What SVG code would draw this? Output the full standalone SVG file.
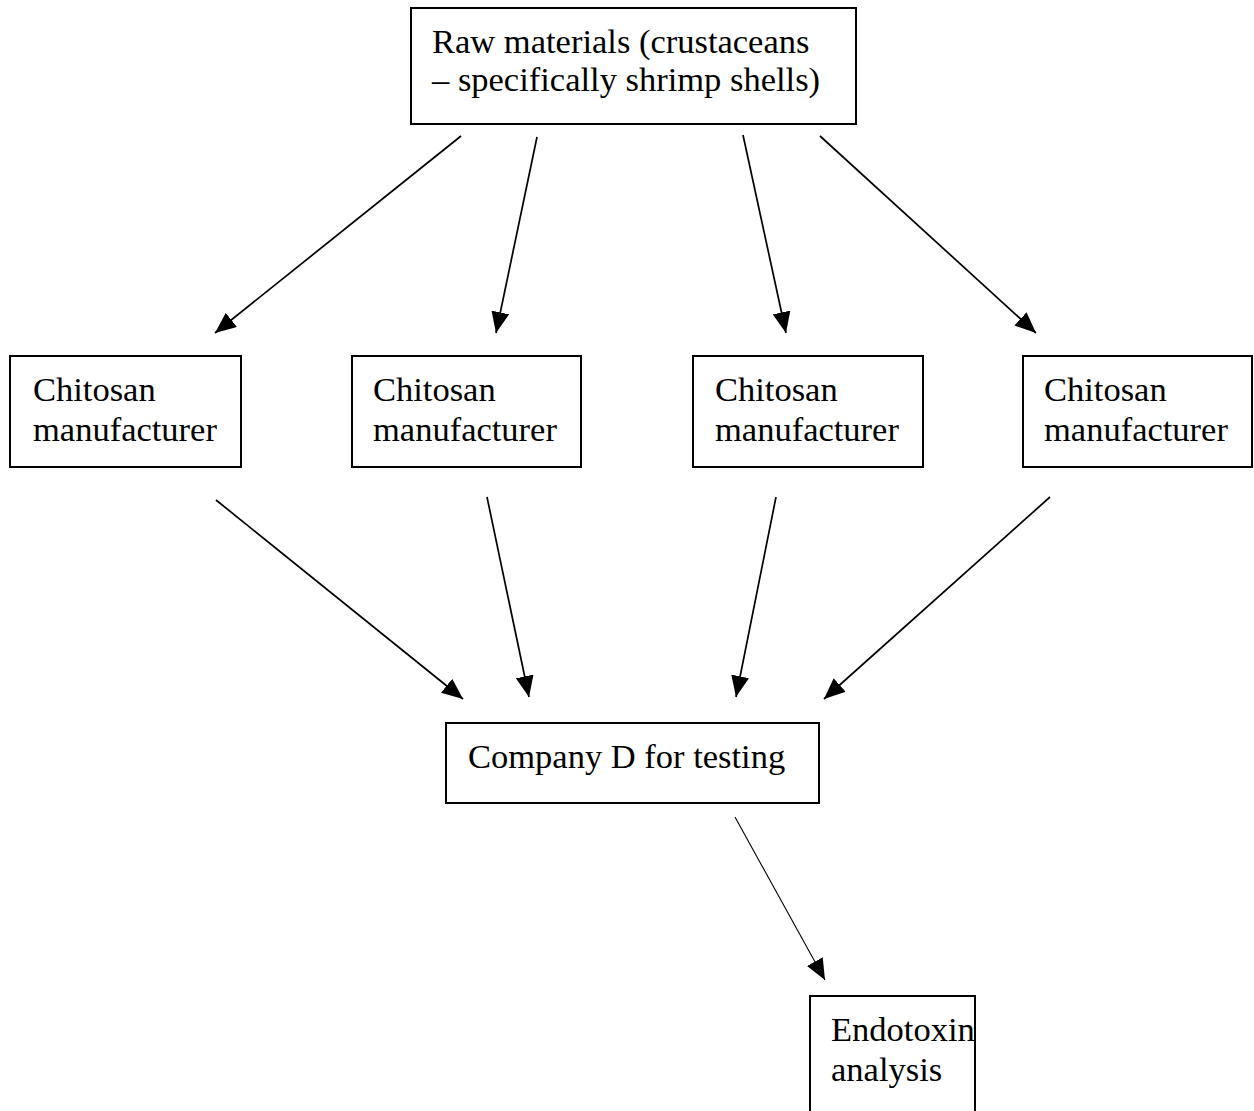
<svg xmlns="http://www.w3.org/2000/svg" width="1254" height="1111" viewBox="0 0 1254 1111">
  <style>
    .box { fill: #fff; stroke: #000; stroke-width: 2; }
    .lbl { font-family: "Liberation Serif", "Times New Roman", serif; font-size: 34.5px; fill: #000; }
    .edge { stroke: #000; stroke-width: 1.7; fill: none; marker-end: url(#arrow); }
    .thin { stroke-width: 1.1; }
  </style>
  <defs>
    <marker id="arrow" markerUnits="userSpaceOnUse" markerWidth="22" markerHeight="18" refX="21" refY="9" orient="auto">
      <path d="M0,0 L21,9 L0,18 Z" fill="#000"/>
    </marker>
  </defs>
  <rect width="1254" height="1111" fill="#fff"/>

  <g id="connectors">
    <line class="edge" x1="461" y1="136" x2="215" y2="333"/>
    <line class="edge" x1="537" y1="137" x2="496" y2="333"/>
    <line class="edge" x1="743" y1="135" x2="786" y2="333"/>
    <line class="edge" x1="820" y1="136" x2="1036" y2="333"/>
    <line class="edge" x1="216" y1="500" x2="463" y2="699"/>
    <line class="edge" x1="487" y1="497" x2="529" y2="697"/>
    <line class="edge" x1="776" y1="497" x2="736" y2="697"/>
    <line class="edge" x1="1050" y1="497" x2="824" y2="699"/>
    <line class="edge thin" x1="735" y1="817" x2="825" y2="980"/>
  </g>

  <g id="raw-materials">
    <rect class="box" x="411" y="8" width="445" height="116"/>
    <text class="lbl" x="432" y="53">Raw materials (crustaceans</text>
    <text class="lbl" x="432" y="91">– specifically shrimp shells)</text>
  </g>

  <g id="manufacturer-1">
    <rect class="box" x="10" y="356" width="231" height="111"/>
    <text class="lbl" x="33" y="401">Chitosan</text>
    <text class="lbl" x="33" y="441">manufacturer</text>
  </g>

  <g id="manufacturer-2">
    <rect class="box" x="352" y="356" width="229" height="111"/>
    <text class="lbl" x="373" y="401">Chitosan</text>
    <text class="lbl" x="373" y="441">manufacturer</text>
  </g>

  <g id="manufacturer-3">
    <rect class="box" x="693" y="356" width="230" height="111"/>
    <text class="lbl" x="715" y="401">Chitosan</text>
    <text class="lbl" x="715" y="441">manufacturer</text>
  </g>

  <g id="manufacturer-4">
    <rect class="box" x="1023" y="356" width="229" height="111"/>
    <text class="lbl" x="1044" y="401">Chitosan</text>
    <text class="lbl" x="1044" y="441">manufacturer</text>
  </g>

  <g id="company-d">
    <rect class="box" x="446" y="723" width="373" height="80"/>
    <text class="lbl" x="468" y="768">Company D for testing</text>
  </g>

  <g id="endotoxin">
    <rect class="box" x="810" y="996" width="165" height="130"/>
    <text class="lbl" x="831" y="1041">Endotoxin</text>
    <text class="lbl" x="831" y="1081">analysis</text>
  </g>
</svg>
